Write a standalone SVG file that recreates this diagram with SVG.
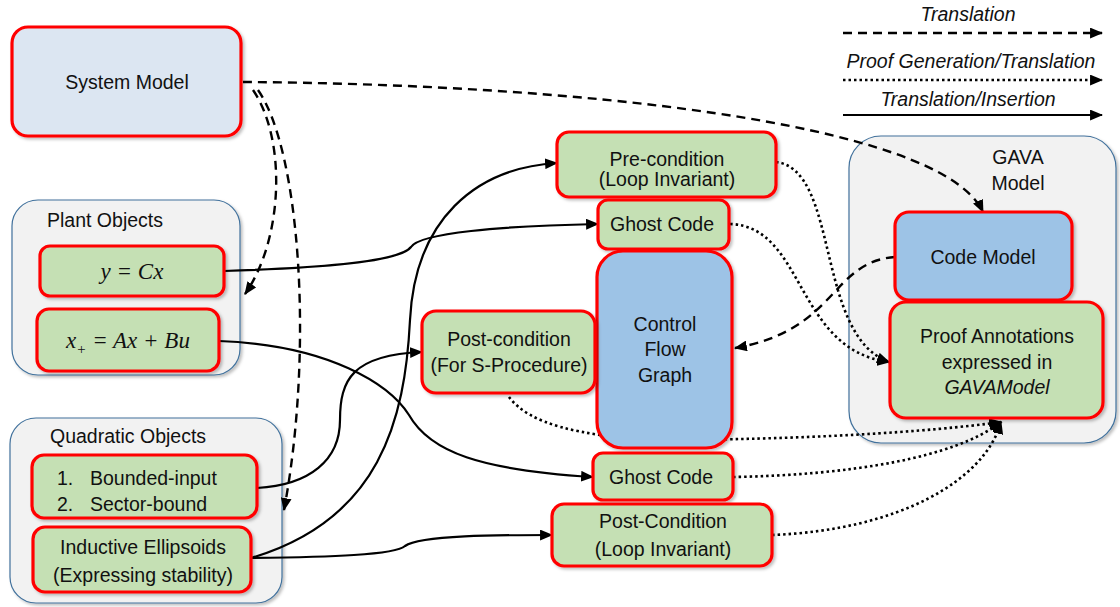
<svg xmlns="http://www.w3.org/2000/svg" width="1120" height="607" viewBox="0 0 1120 607">
  <defs>
    <marker id="arrow" viewBox="0 0 12 10" markerUnits="userSpaceOnUse" markerWidth="13" markerHeight="11" refX="11" refY="5" orient="auto">
      <path d="M0,0 L12,5 L0,10 Z" fill="#000" stroke="none"/>
    </marker>
    <filter id="shadow" x="-10%" y="-10%" width="125%" height="125%">
      <feDropShadow dx="2" dy="2" stdDeviation="1.5" flood-color="#000" flood-opacity="0.25"/>
    </filter>
    <style>
      .txt { font-family: "Liberation Sans", Arial, sans-serif; font-size: 19.5px; fill: #111; text-anchor: middle; }
      .lbl { font-family: "Liberation Sans", Arial, sans-serif; font-size: 19.5px; fill: #111; }
      .it { font-style: italic; }
      .math { font-family: "Liberation Serif", "DejaVu Serif", serif; font-style: italic; font-size: 23px; fill: #111; text-anchor: middle; }
      .group { fill: #f2f2f2; stroke: #41719c; stroke-width: 1.2; filter: url(#shadow); }
      .box { stroke: #ff0000; stroke-width: 3.2; filter: url(#shadow); }
      .green { fill: #c5e0b4; }
      .blue { fill: #9dc3e6; }
      .pale { fill: #dce6f2; }
      .con { fill: none; stroke: #000; }
      .dash { stroke-width: 2.4; stroke-dasharray: 9 6; }
      .dot { stroke-width: 2.6; stroke-dasharray: 2.5 3; }
      .solid { stroke-width: 2.2; }
    </style>
  </defs>

  <rect width="1120" height="607" fill="#fff"/>

  <!-- container groups -->
  <g id="plant-objects">
    <rect class="group" x="12" y="200" width="228" height="175" rx="26"/>
    <text class="lbl" x="47" y="227">Plant Objects</text>
  </g>
  <g id="quadratic-objects">
    <rect class="group" x="10" y="418" width="272" height="185" rx="26"/>
    <text class="lbl" x="50" y="443">Quadratic Objects</text>
  </g>
  <g id="gava-model">
    <rect class="group" x="849" y="136" width="267" height="307" rx="32"/>
    <text class="txt" x="1018" y="164">GAVA</text>
    <text class="txt" x="1018" y="190">Model</text>
  </g>

  <!-- connectors -->
  <g id="connectors">
    <!-- translation (dashed) -->
    <path class="con dash" d="M243,82 C560,84 940,120 983,212" marker-end="url(#arrow)"/>
    <path class="con dash" d="M253,90 C287,140 283,240 245,294" marker-end="url(#arrow)"/>
    <path class="con dash" d="M258,90 C300,150 314,350 284,510" marker-end="url(#arrow)"/>
    <path class="con dash" d="M895,257 C830,262 838,330 735,348" marker-end="url(#arrow)"/>
    <!-- proof generation / translation (dotted) -->
    <path class="con dot" d="M776,162 C840,170 815,335 889,362" marker-end="url(#arrow)"/>
    <path class="con dot" d="M730,224 C805,226 795,350 889,362" marker-end="url(#arrow)"/>
    <path class="con dot" d="M509,397 C530,425 580,435 650,440 C800,440 930,432 1001,422" marker-end="url(#arrow)"/>
    <path class="con dot" d="M733,477 C850,475 955,458 1001,422" marker-end="url(#arrow)"/>
    <path class="con dot" d="M772,535 C900,530 985,480 1001,422" marker-end="url(#arrow)"/>
    <!-- translation / insertion (solid) -->
    <path class="con solid" d="M224,271 C320,268 400,262 411,247 C420,233 500,226 598,224" marker-end="url(#arrow)"/>
    <path class="con solid" d="M219,341 C330,345 390,385 409,415 C430,452 480,470 593,477" marker-end="url(#arrow)"/>
    <path class="con solid" d="M257,488 C310,485 340,460 340,420 C340,380 352,355 422,352" marker-end="url(#arrow)"/>
    <path class="con solid" d="M251,558 C380,520 405,420 410,320 C415,220 475,168 557,163" marker-end="url(#arrow)"/>
    <path class="con solid" d="M251,558 C330,557 395,555 405,546 C420,535 500,535 552,535" marker-end="url(#arrow)"/>
  </g>

  <!-- nodes -->
  <g id="system-model">
    <rect class="box pale" x="12" y="27" width="229" height="109" rx="16"/>
    <text class="txt" x="127" y="89">System Model</text>
  </g>
  <g id="output-eq">
    <rect class="box green" x="40" y="246" width="184" height="50" rx="10"/>
    <text class="math" x="132" y="279">y = Cx</text>
  </g>
  <g id="state-eq">
    <rect class="box green" x="37" y="309" width="182" height="62" rx="12"/>
    <text class="math" x="128" y="348">x<tspan font-size="15" dy="6">+</tspan><tspan dy="-6"> = Ax + Bu</tspan></text>
  </g>
  <g id="bounds">
    <rect class="box green" x="32" y="455" width="225" height="63" rx="12"/>
    <text class="lbl" x="57" y="485">1.</text>
    <text class="lbl" x="90" y="485">Bounded-input</text>
    <text class="lbl" x="57" y="511">2.</text>
    <text class="lbl" x="90" y="511">Sector-bound</text>
  </g>
  <g id="ellipsoids">
    <rect class="box green" x="33" y="527" width="218" height="65" rx="12"/>
    <text class="txt" x="143" y="554">Inductive Ellipsoids</text>
    <text class="txt" x="143" y="582">(Expressing stability)</text>
  </g>
  <g id="pre-condition">
    <rect class="box green" x="557" y="132" width="219" height="65" rx="12"/>
    <text class="txt" x="667" y="166">Pre-condition</text>
    <text class="txt" x="667" y="186">(Loop Invariant)</text>
  </g>
  <g id="ghost-code-top">
    <rect class="box green" x="598" y="200" width="131" height="49" rx="10"/>
    <text class="txt" x="662" y="231">Ghost Code</text>
  </g>
  <g id="control-flow-graph">
    <rect class="box blue" x="597" y="251" width="135" height="197" rx="26"/>
    <text class="txt" x="665" y="331">Control</text>
    <text class="txt" x="665" y="356">Flow</text>
    <text class="txt" x="665" y="382">Graph</text>
  </g>
  <g id="post-condition-s">
    <rect class="box green" x="422" y="311" width="173" height="82" rx="14"/>
    <text class="txt" x="509" y="346">Post-condition</text>
    <text class="txt" x="509" y="372">(For S-Procedure)</text>
  </g>
  <g id="ghost-code-bottom">
    <rect class="box green" x="593" y="453" width="140" height="47" rx="10"/>
    <text class="txt" x="661" y="484">Ghost Code</text>
  </g>
  <g id="post-condition-loop">
    <rect class="box green" x="552" y="504" width="220" height="62" rx="12"/>
    <text class="txt" x="663" y="528">Post-Condition</text>
    <text class="txt" x="663" y="556">(Loop Invariant)</text>
  </g>
  <g id="code-model">
    <rect class="box blue" x="895" y="212" width="177" height="88" rx="14"/>
    <text class="txt" x="983" y="264">Code Model</text>
  </g>
  <g id="proof-annotations">
    <rect class="box green" x="890" y="302" width="213" height="116" rx="16"/>
    <text class="txt" x="997" y="343">Proof Annotations</text>
    <text class="txt" x="997" y="369">expressed in</text>
    <text class="txt it" x="997" y="394">GAVAModel</text>
  </g>

  <!-- legend -->
  <g id="legend">
    <text class="txt it" x="968" y="21">Translation</text>
    <path class="con dash" d="M843,33 L1102,33" marker-end="url(#arrow)"/>
    <text class="txt it" x="971" y="68">Proof Generation/Translation</text>
    <path class="con dot" d="M843,80 L1102,80" marker-end="url(#arrow)"/>
    <text class="txt it" x="968" y="106">Translation/Insertion</text>
    <path class="con solid" d="M843,115 L1102,115" marker-end="url(#arrow)"/>
  </g>
</svg>
